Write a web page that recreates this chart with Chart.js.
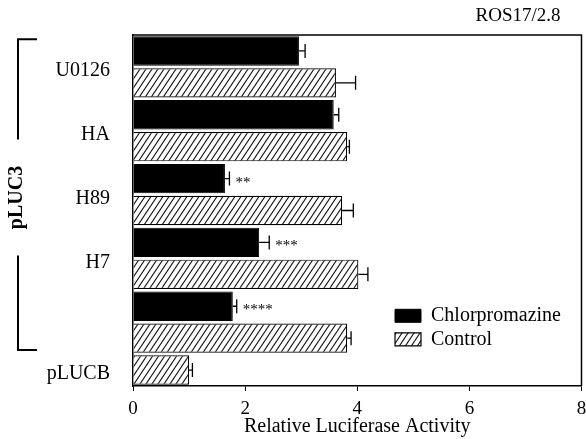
<!DOCTYPE html>
<html>
<head>
<meta charset="utf-8">
<script src="https://cdn.jsdelivr.net/npm/chart.js@4.4.1/dist/chart.umd.min.js"></script>
<style>
  html, body { margin: 0; padding: 0; background: #fff; }
  canvas { display: block; }
</style>
</head>
<body>
<canvas id="c" width="586" height="439"></canvas>
<script>
// ---------------- data ----------------
const categories = ['U0126', 'HA', 'H89', 'H7', '', 'pLUCB'];
const seriesNames = ['Chlorpromazine', 'Control'];
const chlorpromazine = [2.96, 3.58, 1.64, 2.25, 1.78, null];
const control = [3.62, 3.82, 3.73, 4.02, 3.82, 1.00];
const chlorpromazineErr = [0.11, 0.09, 0.08, 0.18, 0.07, null];
const controlErr = [0.35, 0.04, 0.20, 0.17, 0.07, 0.06];
const chlorpromazineSig = ['', '', '**', '***', '****', ''];
const controlSig = ['', '', '', '', '', ''];
const xTicks = [0, 2, 4, 6, 8];
const groupLabel = 'pLUC3';
const groupMembers = ['U0126', 'HA', 'H89', 'H7', ''];
const chartTitle = 'ROS17/2.8';
const xTitle = 'Relative Luciferase Activity';

// ---------------- one bar slot per existing value ----------------
const values = [chlorpromazine, control];
const errs = [chlorpromazineErr, controlErr];
const sigs = [chlorpromazineSig, controlSig];
const slotLabels = [];
const slotCat = [];
const slotValues = [[], []], slotErrs = [[], []], slotSigs = [[], []];
const catCenters = [];
categories.forEach((cat, i) => {
  const first = slotLabels.length;
  values.forEach((vals, k) => {
    if (vals[i] === null) return;
    slotLabels.push((cat || '(none)') + ' / ' + seriesNames[k]);
    slotCat.push(i);
    for (let j = 0; j < values.length; j++) {
      slotValues[j].push(j === k ? vals[i] : null);
      slotErrs[j].push(j === k ? errs[k][i] : null);
      slotSigs[j].push(j === k ? sigs[k][i] : '');
    }
  });
  catCenters.push((first + slotLabels.length - 1) / 2);
});

// ---------------- hatch pattern ----------------
function makeHatch() {
  const w = 6, h = 9;
  const c = document.createElement('canvas');
  c.width = w; c.height = h;
  const g = c.getContext('2d');
  g.fillStyle = '#fff';
  g.fillRect(0, 0, w, h);
  g.strokeStyle = '#111';
  g.lineWidth = 1.1;
  g.beginPath();
  [-w, 0, w].forEach(dx => {
    g.moveTo(dx - w * 0.25, h * 1.25);
    g.lineTo(dx + w * 1.25, -h * 0.25);
  });
  g.stroke();
  return g.createPattern(c, 'repeat');
}
const hatch = makeHatch();

const SERIF = "'Liberation Serif', 'Times New Roman', serif";
Chart.defaults.font.family = SERIF;
Chart.defaults.color = '#000';

// ---------------- helper plugins ----------------
const placement = {
  id: 'placement',
  afterLayout(chart) {
    const a = chart.chartArea;
    const lg = chart.legend;
    if (lg) {
      const w = lg.width + 30, h = lg.height;
      lg.left = a.left + 258.5;
      lg.top = a.top + 267.3;
      lg.right = lg.left + w;
      lg.bottom = lg.top + h;
      lg.width = w;
      if (lg.adjustHitBoxes) lg.adjustHitBoxes();
    }
    if (chart.titleBlock) {
      chart.titleBlock.right = a.right - 21;
    }
  }
};

const errorBars = {
  id: 'errorBars',
  afterDatasetsDraw(chart) {
    const ctx = chart.ctx, xs = chart.scales.x;
    ctx.save();
    ctx.strokeStyle = '#000';
    ctx.fillStyle = '#000';
    ctx.lineWidth = 1.3;
    chart.data.datasets.forEach((ds, di) => {
      const meta = chart.getDatasetMeta(di);
      meta.data.forEach((bar, i) => {
        const v = ds.data[i], e = ds.errors[i];
        if (v === null || e === null || e === undefined) return;
        const x0 = xs.getPixelForValue(v), x1 = xs.getPixelForValue(v + e);
        const y = bar.y;
        ctx.beginPath();
        ctx.moveTo(x0, y); ctx.lineTo(x1, y);
        ctx.moveTo(x1, y - 7); ctx.lineTo(x1, y + 7);
        ctx.stroke();
        const s = ds.sig[i];
        if (s) {
          ctx.font = '15px ' + SERIF;
          ctx.textAlign = 'left';
          ctx.textBaseline = 'middle';
          ctx.fillText(s, x1 + 6, y + 4);
        }
      });
    });
    ctx.restore();
  }
};

const frame = {
  id: 'frame',
  afterDatasetsDraw(chart) {
    const a = chart.chartArea, ctx = chart.ctx;
    ctx.save();
    ctx.strokeStyle = '#000';
    ctx.lineWidth = 1.5;
    ctx.beginPath();
    ctx.moveTo(a.left, a.top); ctx.lineTo(a.right, a.top); ctx.lineTo(a.right, a.bottom);
    ctx.stroke();
    ctx.restore();
  }
};

const bracket = {
  id: 'bracket',
  afterDraw(chart) {
    const ys = chart.scales.y, ctx = chart.ctx;
    const first = categories.indexOf(groupMembers[0]);
    const last = categories.lastIndexOf(groupMembers[groupMembers.length - 1]);
    const s0 = slotCat.indexOf(first), s1 = slotCat.lastIndexOf(last);
    const slot = ys.getPixelForValue(1) - ys.getPixelForValue(0);
    const top = ys.getPixelForValue(s0) - 0.37 * slot;
    const bottom = ys.getPixelForValue(s1) + 0.37 * slot;
    const cy = (top + bottom) / 2 + 3;
    const gap = 58;
    const bx = 18, arm = 37;
    ctx.save();
    ctx.strokeStyle = '#000';
    ctx.lineWidth = 2;
    ctx.beginPath();
    ctx.moveTo(arm, top); ctx.lineTo(bx, top); ctx.lineTo(bx, cy - gap);
    ctx.moveTo(bx, cy + gap); ctx.lineTo(bx, bottom); ctx.lineTo(arm, bottom);
    ctx.stroke();
    ctx.translate(17, cy);
    ctx.rotate(-Math.PI / 2);
    ctx.font = 'bold 20px ' + SERIF;
    ctx.fillStyle = '#000';
    ctx.textAlign = 'center';
    ctx.textBaseline = 'middle';
    ctx.fillText(groupLabel, 0, 0);
    ctx.restore();
  }
};

// ---------------- chart ----------------
new Chart(document.getElementById('c'), {
  type: 'bar',
  data: {
    labels: slotLabels,
    datasets: [
      {
        label: seriesNames[0], data: slotValues[0],
        backgroundColor: '#000', borderColor: '#000', borderWidth: 1,
        errors: slotErrs[0], sig: slotSigs[0]
      },
      {
        label: seriesNames[1], data: slotValues[1],
        backgroundColor: hatch, borderColor: '#000', borderWidth: 1.2,
        errors: slotErrs[1], sig: slotSigs[1]
      }
    ]
  },
  options: {
    indexAxis: 'y',
    responsive: false,
    animation: false,
    skipNull: true,
    categoryPercentage: 1,
    barPercentage: 0.92,
    layout: { padding: { left: 0, right: 4, top: 0, bottom: 0 } },
    scales: {
      x: {
        type: 'linear', min: 0, max: 8,
        afterBuildTicks: s => { s.ticks = xTicks.map(v => ({ value: v })); },
        afterFit: s => { s.height = 53; s.paddingRight = 4.5; s.paddingLeft = 0; },
        ticks: { font: { size: 19 }, padding: 7, color: '#000' },
        grid: { display: true, drawOnChartArea: false, drawTicks: true, tickLength: 5, color: '#000', lineWidth: 1 },
        border: { display: true, color: '#000', width: 1.5 },
        title: { display: true, text: xTitle, font: { size: 20 }, padding: { top: 0, bottom: 0 }, color: '#000' }
      },
      y: {
        type: 'category', offset: true,
        afterBuildTicks: s => { s.ticks = catCenters.map(v => ({ value: v })); },
        afterFit: s => { s.width = 133; },
        ticks: {
          autoSkip: false,
          callback: (v, i) => categories[i],
          font: { size: 20 }, padding: 23, labelOffset: 4, color: '#000'
        },
        grid: { display: false, drawTicks: false },
        border: { display: true, color: '#000', width: 1.5 }
      }
    },
    plugins: {
      title: {
        display: true, text: chartTitle, align: 'end',
        font: { size: 19, weight: 'normal' }, padding: { top: 4, bottom: 7.2 }, color: '#000'
      },
      legend: {
        display: true, position: 'chartArea', align: 'start',
        labels: { boxWidth: 26, boxHeight: 13, padding: 3.5, font: { size: 20 }, color: '#000' }
      },
      tooltip: { enabled: false }
    }
  },
  plugins: [placement, errorBars, frame, bracket]
});
</script>
</body>
</html>
